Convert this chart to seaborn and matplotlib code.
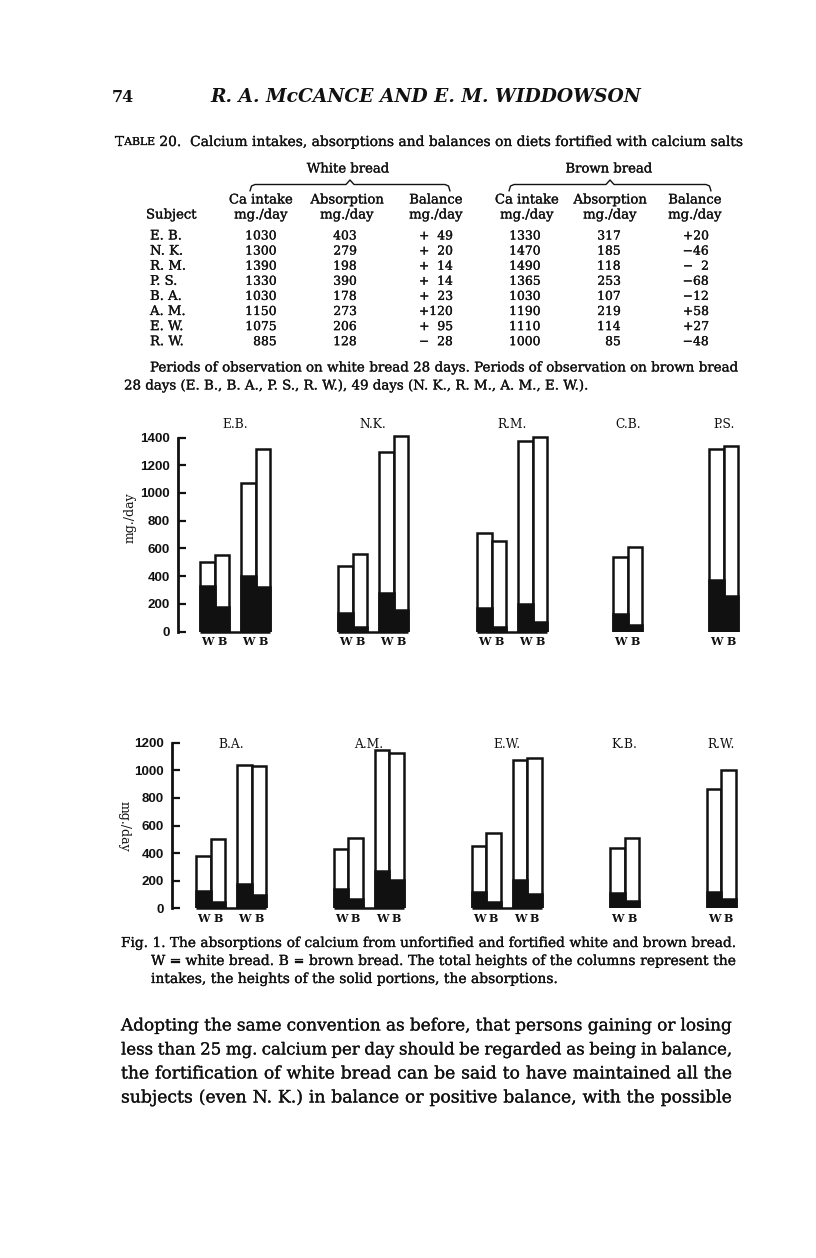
import numpy as np
import pandas as pd
import matplotlib
matplotlib.use("Agg")
import matplotlib.pyplot as plt
import matplotlib.patheffects as pe
import seaborn as sns

# ---------------- data ----------------
table_subjects = ["E. B.", "N. K.", "R. M.", "P. S.", "B. A.", "A. M.", "E. W.", "R. W."]
white_intake = [1030, 1300, 1390, 1330, 1030, 1150, 1075, 885]
white_absorption = [403, 279, 198, 390, 178, 273, 206, 128]
white_balance = [49, 20, 14, 14, 23, 120, 95, -28]
brown_intake = [1330, 1470, 1490, 1365, 1030, 1190, 1110, 1000]
brown_absorption = [317, 185, 118, 253, 107, 219, 114, 85]
brown_balance = [20, -46, -2, -68, -12, 58, 27, -48]

top_subjects = ["E.B.", "N.K.", "R.M.", "C.B.", "P.S."]
top_nbars = [4, 4, 4, 2, 2]
top_intake = [500, 553, 1075, 1320, 476, 556, 1297, 1414, 710, 650, 1376, 1405, 541, 609, 1316, 1342]
top_absorption = [330, 176, 404, 320, 132, 36, 277, 156, 173, 36, 197, 72, 125, 48, 373, 253]

bottom_subjects = ["B.A.", "A.M.", "E.W.", "K.B.", "R.W."]
bottom_nbars = [4, 4, 4, 2, 2]
bottom_intake = [381, 500, 1038, 1033, 427, 507, 1147, 1123, 451, 543, 1072, 1091, 439, 507, 862, 1002]
bottom_absorption = [123, 46, 174, 97, 142, 65, 273, 208, 118, 46, 205, 101, 109, 53, 121, 65]

bread_labels = ["W", "B"]
top_yticks = [0, 200, 400, 600, 800, 1000, 1200, 1400]
bottom_yticks = [0, 200, 400, 600, 800, 1000, 1200]

# ---------------- page ----------------
W, H = 816, 1258
sns.set_theme(style="white")
plt.rcParams["font.family"] = ["DejaVu Serif"]
fig = plt.figure(figsize=(W / 100, H / 100), dpi=100)
fig.patch.set_facecolor("white")
page = fig.add_axes([0, 0, 1, 1])
page.set_xlim(0, W)
page.set_ylim(H, 0)
page.axis("off")
renderer = fig.canvas.get_renderer()
SERIF = ["DejaVu Serif"]
INK = "#111111"
HEAVY = [pe.withStroke(linewidth=0.2, foreground=INK)]


def text_width(s, size, **kw):
    kw.pop("color", None)
    kw.pop("path_effects", None)
    t = page.text(0, 0, s, fontsize=size, family=kw.pop("family", SERIF), **kw)
    w = t.get_window_extent(renderer).width
    t.remove()
    return w


def put(x, y, s, size, ha="left", **kw):
    return page.text(x, y, s, fontsize=size, ha=ha, va="center",
                     family=kw.pop("family", SERIF), color=kw.pop("color", INK), **kw)


def fit_sizes(lines, x0s, x1, **kw):
    return [10 * (x1 - x0) / text_width(" ".join(s.split()), 10, **kw)
            for s, x0 in zip(lines, x0s)]


def justify(x0, x1, y, s, size, **kw):
    words = s.split()
    ws = [text_width(w, size, **kw) for w in words]
    gap = (x1 - x0 - sum(ws)) / max(len(words) - 1, 1)
    x = x0
    for w, wd in zip(words, ws):
        put(x, y, w, size, **kw)
        x += wd + gap


def runs(x0, x1, y, parts, **kw):
    total = sum(text_width(s, 10 * r, **kw) for s, r in parts)
    base = 10 * (x1 - x0) / total
    x = x0
    for s, r in parts:
        put(x, y, s, base * r, **kw)
        x += text_width(s, base * r, **kw)


def brace(x0, x1, y):
    xm = (x0 + x1) / 2
    xs = [x0, x0 + 1.5, x0 + 5, xm - 4, xm, xm + 4, x1 - 5, x1 - 1.5, x1]
    ys = [y + 7, y + 2, y + 0.5, y + 0.5, y - 4, y + 0.5, y + 0.5, y + 2, y + 7]
    page.plot(xs, ys, color=INK, lw=1.0)


# header
put(112, 97, "74", 11.5, weight="bold")
title = "R. A. McCANCE AND E. M. WIDDOWSON"
hs = fit_sizes([title], [210], 642, style="italic", weight="bold")[0]
put(210, 97, title, hs, style="italic", weight="bold")

# table title
runs(115, 745, 142, [("T", 1.0), ("ABLE", 0.78),
                      (" 20.  Calcium intakes, absorptions and balances on diets fortified with calcium salts", 1.0)],
     path_effects=HEAVY)

# table headings
ts = 9.5
ds = 8.9
put(348, 169, "White bread", ts, ha="center", path_effects=HEAVY)
put(609, 169, "Brown bread", ts, ha="center", path_effects=HEAVY)
brace(250, 450, 184)
brace(509, 711, 184)
col_centers = [261, 347, 436, 527, 610, 695]
for i, c in enumerate(col_centers):
    put(c, 200, ["Ca intake", "Absorption", "Balance"][i % 3], ts, ha="center", path_effects=HEAVY)
    put(c, 215, "mg./day", ts, ha="center", path_effects=HEAVY)
put(146, 215, "Subject", ts, path_effects=HEAVY)

FS = "\u2007"


def fmt_bal(v, width):
    sign = "+" if v >= 0 else "\u2212"
    return sign + str(abs(v)).rjust(width, FS)


for i, s in enumerate(table_subjects):
    y = 236 + 15.1 * i
    put(150, y, s, ts, path_effects=HEAVY)
    put(277, y, str(white_intake[i]), ds, ha="right", path_effects=HEAVY)
    put(357, y, str(white_absorption[i]), ds, ha="right", path_effects=HEAVY)
    put(453, y, fmt_bal(white_balance[i], 3), ds, ha="right", path_effects=HEAVY)
    put(541, y, str(brown_intake[i]), ds, ha="right", path_effects=HEAVY)
    put(621, y, str(brown_absorption[i]), ds, ha="right", path_effects=HEAVY)
    put(709, y, fmt_bal(brown_balance[i], 2), ds, ha="right", path_effects=HEAVY)

note1 = "Periods of observation on white bread 28 days.  Periods of observation on brown bread"
note2 = "28 days (E. B., B. A., P. S., R. W.), 49 days (N. K., R. M., A. M., E. W.)."
ns = fit_sizes([note1], [150], 738)[0]
justify(150, 738, 368, note1, ns, path_effects=HEAVY)
put(124, 386, note2, ns, path_effects=HEAVY)

# ---------------- chart panels ----------------
BW = 14.5
GAP = 12.0


def bar_positions(group_x, nbars):
    xs = []
    for gx, n in zip(group_x, nbars):
        for k in range(n):
            xs.append(gx + k * BW + (GAP if k >= 2 else 0))
    return xs


def panel(spine_x, zero_y, top_y, tick_max, ymax, group_x, nbars, intake, absorb,
          subjects, ticks, label_y, ylab_xy, ylab_rot):
    scale = (zero_y - top_y) / tick_max
    height = ymax * scale
    x_right = 760
    ax = fig.add_axes([spine_x / W, 1 - zero_y / H, (x_right - spine_x) / W, height / H])
    ax.patch.set_alpha(0)
    xs = bar_positions(group_x, nbars)
    df = pd.DataFrame({"x": xs, "intake": intake, "absorption": absorb})
    sns.barplot(data=df, x="x", y="intake", native_scale=True, width=1, orient="x",
                color="white", edgecolor=INK, linewidth=1.8, saturation=1,
                errorbar=None, ax=ax)
    sns.barplot(data=df, x="x", y="absorption", native_scale=True, width=1, orient="x",
                color=INK, edgecolor=INK, linewidth=1.8, saturation=1,
                errorbar=None, ax=ax)
    i = 0
    for g, (gx, n) in enumerate(zip(group_x, nbars)):
        grp = xs[i:i + n]
        if n == 4:
            ax.plot([grp[0] - BW / 2, grp[-1] + BW / 2], [0, 0], color=INK, lw=1.8,
                    clip_on=False, solid_capstyle="butt")
        center = (grp[0] + grp[-1]) / 2
        put(center, label_y, subjects[g], 8.8, ha="center")
        for k, bx in enumerate(grp):
            put(bx, zero_y + 10, bread_labels[k % 2], 8.0, ha="center", weight="bold")
        i += n
    ax.set_xlim(spine_x, x_right)
    ax.set_ylim(0, ymax)
    ax.set_xticks([])
    ax.set_xlabel("")
    ax.set_ylabel("")
    ax.set_yticks(ticks)
    ax.set_yticklabels([str(t) for t in ticks])
    for sp in ["top", "right", "bottom"]:
        ax.spines[sp].set_visible(False)
    ax.spines["left"].set_bounds(0, tick_max)
    ax.spines["left"].set_linewidth(2.0)
    ax.spines["left"].set_color(INK)
    ax.tick_params(axis="y", direction="in", length=5.5, width=1.6, pad=6,
                   labelsize=9.6, colors=INK, left=True)
    for lab in ax.get_yticklabels():
        lab.set_fontfamily(["Liberation Sans"])
        lab.set_fontweight("bold")
    put(ylab_xy[0], ylab_xy[1], "mg./day", 9.0, ha="center", rotation=ylab_rot,
        rotation_mode="anchor")
    return ax


panel(178, 631.5, 437.5, 1400, 1500, [207.5, 345.5, 484.5, 620.5, 716.5], top_nbars,
      top_intake, top_absorption, top_subjects, top_yticks, 425, (130, 518), 90)
panel(172, 908.3, 742.7, 1200, 1250, [203.5, 341, 479, 617.5, 714], bottom_nbars,
      bottom_intake, bottom_absorption, bottom_subjects, bottom_yticks, 745, (124, 826), 270)

# ---------------- caption ----------------
cap1 = "Fig. 1.  The absorptions of calcium from unfortified and fortified white and brown bread."
cap2 = "W = white bread.  B = brown bread.  The total heights of the columns represent the"
cap3 = "intakes, the heights of the solid portions, the absorptions."
c1, c2 = fit_sizes([cap1, cap2], [121, 151], 736)
justify(121, 736, 943, cap1, c1, path_effects=HEAVY)
justify(151, 736, 961, cap2, c2, path_effects=HEAVY)
put(151, 979, cap3, c2, path_effects=HEAVY)

# ---------------- body text ----------------
body = [
    "Adopting the same convention as before, that persons gaining or losing",
    "less than 25 mg. calcium per day should be regarded as being in balance,",
    "the fortification of white bread can be said to have maintained all the",
    "subjects (even N. K.) in balance or positive balance, with the possible",
]
fits = fit_sizes(body, [121] * 4, 732)
med = float(np.median(fits))
for i, line in enumerate(body):
    justify(121, 732, 1026 + 24 * i, line, 0.4 * med + 0.6 * fits[i], path_effects=HEAVY)

fig.savefig("out.png", dpi=100, facecolor="white")
